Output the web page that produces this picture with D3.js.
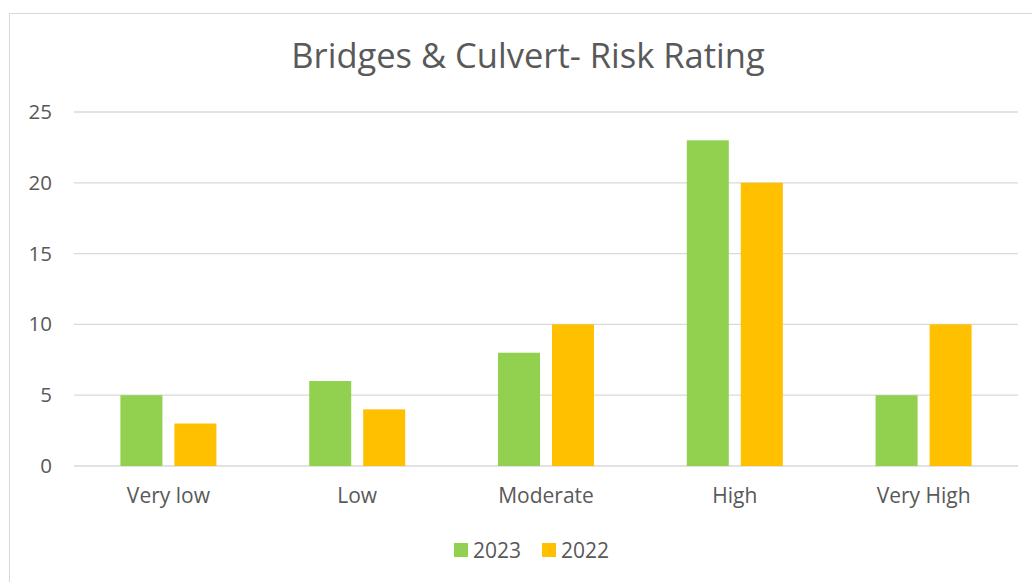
<!DOCTYPE html>
<html><head><meta charset="utf-8">
<script src="https://cdn.jsdelivr.net/npm/d3@7"></script>
<style>body{margin:0;background:#fff}svg{display:block}text{font-family:"Open Sans",sans-serif;fill:#595959}</style>
</head><body><svg id="c" width="1032" height="582"></svg>
<script>
const categories = ["Very low","Low","Moderate","High","Very High"];
const seriesNames = ["2023","2022"];
const values2023 = [5,6,8,23,5];
const values2022 = [3,4,10,20,10];
const yTicks = [0,5,10,15,20,25];
const colors = ["#92d050","#ffc000"];
const title = "Bridges & Culvert- Risk Rating";

const svg = d3.select("#c");
svg.append("rect").attr("x",9.5).attr("y",13.5).attr("width",1040).attr("height",600)
  .attr("fill","#fff").attr("stroke","#d9d9d9").attr("stroke-width",1);

const x = d3.scaleBand().domain(categories).range([74,1018]);
const y = d3.scaleLinear().domain([0,25]).range([466,112]);

svg.append("g").selectAll("line").data(yTicks).join("line")
  .attr("x1",74).attr("x2",1018).attr("y1",d=>y(d)).attr("y2",d=>y(d))
  .attr("stroke","#d9d9d9").attr("stroke-width",1.3);

const yAxis = svg.append("g").attr("transform","translate(60,0)")
  .call(d3.axisLeft(y).tickValues(yTicks).tickSize(0).tickPadding(8));
yAxis.select(".domain").remove();
yAxis.selectAll("text").attr("font-size",20.5).style("font-family","'Open Sans',sans-serif").attr("fill","#595959");

const xAxis = svg.append("g").attr("transform","translate(0,466)")
  .call(d3.axisBottom(x).tickSize(0).tickPadding(22));
xAxis.select(".domain").remove();
xAxis.selectAll("text").attr("font-size",21).style("font-family","'Open Sans',sans-serif").attr("fill","#595959");

const x1 = d3.scaleBand().domain(seriesNames).range([0,x.bandwidth()]).paddingInner(0.222).paddingOuter(0.859);
const data = categories.map((c,i)=>({c, v:[values2023[i],values2022[i]]}));
const g = svg.append("g");
data.forEach(d=>{
  seriesNames.forEach((s,j)=>{
    g.append("rect").attr("x",x(d.c)+x1(s)).attr("width",x1.bandwidth())
      .attr("y",y(d.v[j])).attr("height",y(0)-y(d.v[j])).attr("fill",colors[j]);
  });
});

svg.append("text").attr("x",528).attr("y",68).attr("text-anchor","middle")
  .attr("font-size",34.5).text(title);

const leg = svg.append("g");
const legX = [454,542];
seriesNames.forEach((s,j)=>{
  leg.append("rect").attr("x",legX[j]).attr("y",543).attr("width",14).attr("height",14).attr("fill",colors[j]);
  leg.append("text").attr("x",legX[j]+19).attr("y",558).attr("font-size",21).text(s);
});
</script></body></html>
